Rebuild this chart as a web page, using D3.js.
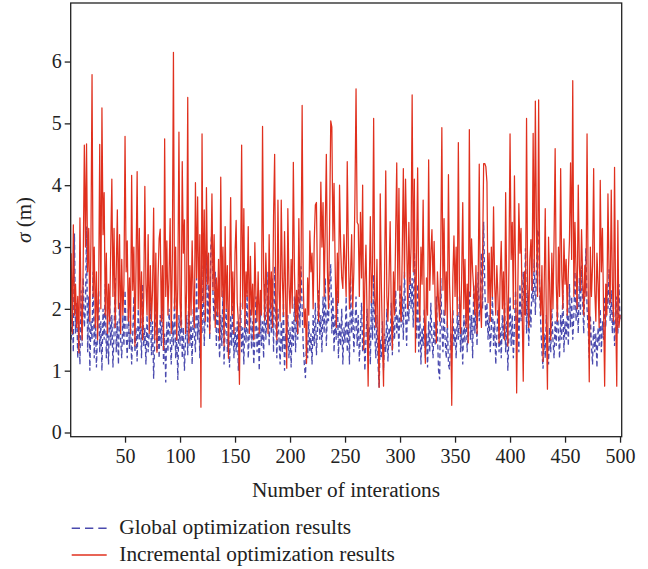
<!DOCTYPE html>
<html>
<head>
<meta charset="utf-8">
<script src="https://cdn.jsdelivr.net/npm/d3@7"></script>
<style>
  body { margin: 0; background: #fff; }
  text { font-family: "Liberation Serif", "DejaVu Serif", serif; fill: #222; }
</style>
</head>
<body>
<div id="chart"></div>
<script>
// iteration numbers 1..500 are the array positions + 1
const xTicks = [50, 100, 150, 200, 250, 300, 350, 400, 450, 500];
const yTicks = [0, 1, 2, 3, 4, 5, 6];

const globalResults = [
  1.5, 1.9, 1.3, 3.22, 1.6, 2.1, 1.2, 1.8, 1.1, 2.3,
  1.4, 2.5, 1.7, 2.0, 3.33, 1.3, 2.2, 1.0, 1.8, 1.5,
  2.6, 1.2, 1.9, 1.05, 1.6, 2.3, 1.3, 1.8, 1.0, 2.0,
  1.5, 2.4, 1.2, 1.7, 1.1, 2.2, 1.4, 1.9, 1.05, 1.6,
  2.5, 1.3, 1.8, 1.1, 2.1, 1.5, 1.2, 1.9, 1.4, 2.3,
  1.6, 1.2, 2.0, 1.35, 1.8, 1.1, 1.6, 2.2, 1.3, 1.7,
  1.15, 2.0, 1.5, 1.8, 1.2, 2.4, 1.4, 1.7, 1.1, 1.9,
  1.3, 1.6, 2.1, 1.25, 1.8, 0.87, 1.5, 2.2, 1.3, 1.7,
  1.2, 1.9, 1.4, 2.3, 1.1, 1.6, 0.81, 1.8, 1.3, 2.0,
  1.5, 1.1, 1.8, 1.4, 2.2, 1.2, 1.6, 0.85, 1.9, 1.4,
  2.1, 1.2, 1.7, 1.0, 1.5, 1.9, 1.25, 2.3, 1.4, 1.8,
  1.1, 2.0, 1.6, 1.3, 2.5, 1.5, 1.9, 1.2, 2.2, 1.6,
  2.7, 1.4, 2.0, 2.9, 1.7, 2.4, 1.5, 3.0, 3.28, 2.2,
  1.8, 2.6, 1.4, 2.1, 1.6, 1.2, 1.9, 1.4, 2.3, 1.1,
  1.7, 2.0, 1.3, 1.6, 1.05, 1.9, 1.4, 2.2, 1.2, 1.7,
  1.3, 1.8, 1.0, 1.5, 2.1, 1.3, 1.7, 1.1, 1.9, 1.45,
  2.3, 1.2, 1.6, 2.0, 1.35, 1.8, 1.1, 1.5, 2.2, 1.3,
  1.7, 1.0, 2.0, 1.4, 1.8, 1.2, 2.4, 1.5, 1.9, 2.6,
  1.4, 2.2, 1.6, 2.5, 1.3, 2.69, 1.8, 1.2, 2.0, 1.5,
  1.1, 1.8, 1.3, 2.1, 1.0, 1.6, 1.35, 1.9, 1.2, 1.7,
  1.05, 1.8, 1.4, 2.2, 1.3, 1.9, 1.5, 2.4, 1.7, 2.69,
  2.0, 1.4, 1.1, 0.88, 1.5, 1.2, 1.8, 1.3, 1.6, 1.1,
  1.9, 1.4, 2.1, 1.25, 1.7, 2.3, 1.5, 1.9, 1.3, 2.2,
  1.6, 2.5, 1.4, 2.0, 1.8, 2.4, 2.72, 1.6, 2.2, 1.3,
  1.9, 1.5, 2.3, 1.2, 1.8, 1.4, 2.0, 1.1, 1.7, 1.45,
  2.2, 1.3, 1.8, 1.1, 2.5, 1.6, 2.0, 1.3, 1.7, 2.2,
  1.4, 1.9, 1.15, 1.6, 2.1, 1.3, 1.8, 1.0, 1.5, 2.0,
  1.3, 1.7, 1.1, 2.2, 1.5, 2.55, 1.6, 1.2, 1.9, 1.1,
  0.73, 1.5, 1.2, 1.8, 1.0, 1.6, 1.3, 2.0, 1.15, 1.7,
  1.4, 2.1, 1.25, 1.8, 1.5, 2.3, 1.6, 1.9, 1.3, 2.4,
  1.7, 2.2, 1.5, 2.6, 1.9, 1.4, 2.3, 1.8, 2.7, 2.0,
  2.5, 1.7, 2.98, 2.1, 1.5, 2.4, 1.3, 1.9, 1.1, 1.7,
  1.4, 2.0, 1.2, 1.6, 1.05, 1.8, 1.3, 2.1, 1.5, 1.2,
  1.8, 1.4, 2.2, 1.6, 1.0, 0.86, 2.5, 1.7, 1.3, 2.0,
  1.5, 1.2, 1.8, 1.1, 1.02, 1.6, 1.3, 2.0, 1.4, 1.7,
  1.2, 1.9, 1.5, 2.2, 1.3, 1.7, 1.1, 1.9, 1.45, 2.1,
  1.3, 1.7, 2.3, 1.5, 1.9, 1.2, 2.4, 1.6, 2.0, 1.4,
  2.6, 1.8, 2.2, 2.9, 2.0, 3.41, 2.4, 1.7, 2.1, 1.5,
  1.9, 1.3, 1.7, 2.2, 1.4, 1.8, 1.1, 1.6, 2.0, 1.3,
  1.7, 1.2, 1.9, 1.5, 2.1, 1.3, 1.8, 1.0, 1.6, 2.2,
  1.4, 1.9, 1.2, 1.7, 2.3, 1.5, 2.0, 1.3, 2.4, 1.8,
  2.1, 2.6, 1.9, 2.98, 1.6, 2.3, 1.4, 2.0, 1.7, 2.5,
  2.1, 2.8, 1.9, 2.6, 3.27, 3.28, 2.2, 1.7, 1.3, 1.03,
  1.6, 1.2, 1.9, 1.4, 1.1, 1.7, 1.3, 2.0, 1.5, 1.2,
  1.8, 1.4, 2.1, 1.6, 1.2, 1.9, 1.5, 2.3, 1.3, 1.8,
  1.5, 2.0, 1.4, 2.4, 1.7, 2.2, 1.5, 1.9, 2.6, 1.8,
  2.2, 1.6, 2.5, 1.9, 2.7, 2.1, 1.6, 2.4, 2.98, 2.0,
  1.7, 1.2, 1.9, 1.4, 1.1, 1.8, 1.3, 1.6, 1.05, 1.7,
  1.4, 2.0, 1.3, 1.8, 1.5, 2.2, 1.7, 2.4, 2.0, 2.64,
  1.8, 2.3, 1.6, 2.1, 1.4, 1.9, 2.2, 1.6, 2.4, 1.8
];

const incrementalResults = [
  2.9, 1.6, 3.36, 1.9, 2.4, 1.7, 2.2, 1.29, 3.47, 2.0,
  1.5, 2.8, 4.65, 3.0, 4.67, 2.6, 3.3, 1.8, 3.1, 5.79,
  2.2, 3.0, 1.7, 2.6, 1.5, 2.3, 4.66, 2.0, 5.25, 3.2,
  3.88, 1.9, 2.9, 1.6, 2.4, 1.8, 3.0, 4.1, 2.2, 3.3,
  1.7, 2.6, 3.6, 2.0, 3.2, 1.6, 2.8, 1.9, 2.4, 4.79,
  2.6, 3.1, 1.8, 2.5, 1.6, 4.16, 2.3, 3.0, 1.4, 2.7,
  4.22, 2.0, 3.3, 1.7, 2.6, 1.5, 2.2, 3.98, 2.4, 1.9,
  3.2, 1.6, 2.7, 1.8, 2.3, 3.63, 1.5, 2.9, 1.3, 2.5,
  3.14, 3.29, 1.8, 2.7, 1.34, 4.75, 2.2, 3.1, 1.9, 2.5,
  3.46, 1.6, 2.8, 6.15, 2.0, 3.0, 1.5, 2.4, 4.86, 2.1,
  1.7, 4.38, 2.9, 3.44, 1.6, 2.3, 5.42, 1.45, 2.7, 1.9,
  3.1, 2.2, 1.7, 4.04, 2.5, 3.81, 2.0, 3.2, 0.41, 4.83,
  2.1, 3.6, 1.8, 3.96, 2.4, 2.9, 1.6, 2.6, 3.86, 2.3,
  3.2, 1.7, 2.5, 1.9, 2.8, 1.5, 4.13, 2.2, 3.0, 1.4,
  3.33, 2.0, 2.7, 1.2, 2.4, 3.8, 1.9, 2.6, 1.6, 2.9,
  3.43, 2.1, 1.8, 0.78, 2.5, 4.65, 2.0, 3.62, 1.7, 2.6,
  2.2, 3.33, 1.6, 2.85, 1.9, 2.4, 1.5, 3.07, 2.2, 1.8,
  2.6, 1.6, 2.3, 1.9, 4.95, 2.5, 1.81, 2.9, 2.2, 1.6,
  3.2, 2.0, 2.6, 1.7, 3.48, 4.5, 2.1, 1.5, 3.76, 2.3,
  1.8, 3.76, 2.5, 1.9, 3.25, 2.2, 1.04, 3.62, 2.4, 1.93,
  2.8, 2.01, 4.37, 2.6, 1.8, 2.3, 1.6, 3.46, 2.1, 2.7,
  5.29, 2.4, 1.7, 2.0, 1.12, 2.5, 1.9, 3.26, 2.6, 2.9,
  2.0, 3.1, 3.68, 3.72, 2.3, 1.8, 2.6, 4.05, 3.0, 3.72,
  2.2, 3.3, 4.5, 2.6, 2.0, 3.4, 5.04, 4.94, 3.1, 4.03,
  2.7, 1.7, 2.9, 2.1, 4.0, 3.0, 2.5, 2.33, 3.2, 2.7,
  2.2, 4.38, 3.0, 2.0, 2.55, 3.2, 2.0, 2.6, 3.8, 5.56,
  3.4, 3.36, 2.2, 3.56, 2.5, 4.0, 1.34, 2.4, 3.03, 1.9,
  0.75, 2.3, 3.49, 2.1, 2.6, 5.08, 2.2, 1.7, 2.8, 1.6,
  0.73, 3.86, 2.4, 1.5, 0.75, 2.7, 4.23, 2.2, 1.8, 2.5,
  3.41, 2.0, 1.34, 2.6, 1.9, 3.2, 4.36, 2.3, 3.95, 2.1,
  1.8, 2.9, 4.27, 2.5, 4.1, 3.1, 2.0, 3.4, 2.4, 3.0,
  5.46, 2.6, 4.1, 1.3, 2.8, 4.28, 2.2, 1.8, 3.0, 2.4,
  3.76, 2.0, 1.12, 2.5, 1.9, 4.41, 2.3, 2.9, 3.28, 2.4,
  3.09, 2.0, 1.45, 2.6, 2.1, 1.8, 2.9, 4.93, 2.3, 3.46,
  1.9, 2.6, 1.7, 4.17, 2.4, 1.8, 0.44, 2.5, 3.18, 2.2,
  3.0, 1.9, 4.69, 2.3, 1.6, 2.5, 3.72, 2.0, 2.8, 1.7,
  2.4, 1.45, 4.9, 2.2, 3.13, 2.6, 2.3, 1.9, 2.7, 1.6,
  2.4, 4.34, 2.1, 1.7, 2.8, 4.35, 4.35, 4.3, 4.05, 2.1,
  2.9, 1.8, 3.0, 2.2, 3.65, 2.4, 1.9, 2.7, 2.2, 1.45,
  2.5, 3.09, 2.0, 2.6, 1.5, 3.88, 2.3, 1.4, 2.7, 4.83,
  2.8, 3.4, 2.0, 4.15, 2.6, 0.64, 2.2, 3.7, 2.9, 3.3,
  2.0, 0.83, 2.6, 1.9, 5.08, 2.4, 1.7, 2.8, 3.12, 2.3,
  4.84, 2.6, 5.36, 3.3, 2.2, 5.38, 2.4, 1.9, 2.7, 1.15,
  2.3, 3.62, 1.8, 0.70, 3.16, 2.4, 1.5, 2.9, 2.0, 3.1,
  4.59, 2.4, 1.8, 3.0, 2.2, 4.27, 2.6, 2.0, 3.13, 2.4,
  2.8, 1.9, 2.6, 3.1, 4.36, 2.8, 5.69, 2.2, 3.4, 2.6,
  2.0, 4.0, 2.7, 2.3, 3.28, 2.5, 1.9, 2.7, 2.2, 4.83,
  2.4, 0.82, 3.0, 2.2, 2.7, 4.27, 2.3, 1.8, 2.9, 2.4,
  1.7, 4.08, 2.6, 3.3, 2.0, 0.75, 2.4, 1.9, 3.86, 2.6,
  2.1, 3.92, 2.4, 1.8, 4.29, 2.0, 0.75, 3.43, 1.7, 1.9
];

const seriesNames = ["Global optimization results", "Incremental optimization results"];
const seriesColors = ["#4a4aae", "#e0301e"];

const W = 648, H = 569;
const margin = { top: 3, right: 26.3, bottom: 132.3, left: 70.7 };
const width = W - margin.left - margin.right;
const height = H - margin.top - margin.bottom;

const svg = d3.select("#chart")
  .append("svg")
  .attr("width", W)
  .attr("height", H);

const g = svg.append("g")
  .attr("transform", `translate(${margin.left},${margin.top})`);

const x = d3.scaleLinear().domain([0.6, 501.5]).range([0, width]);
const y = d3.scaleLinear().domain([-0.068, 6.947]).range([height, 0]);

g.append("clipPath").attr("id", "clip")
  .append("rect").attr("width", width).attr("height", height);

const line = d3.line()
  .x((d, i) => x(i + 1))
  .y(d => y(d));

const plot = g.append("g").attr("clip-path", "url(#clip)");

plot.append("path")
  .datum(globalResults)
  .attr("fill", "none")
  .attr("stroke", seriesColors[0])
  .attr("stroke-width", 1.3)
  .attr("stroke-dasharray", "5,3")
  .attr("d", line);

plot.append("path")
  .datum(incrementalResults)
  .attr("fill", "none")
  .attr("stroke", seriesColors[1])
  .attr("stroke-width", 1.25)
  .attr("stroke-linejoin", "round")
  .attr("d", line);

// frame
g.append("rect")
  .attr("width", width)
  .attr("height", height)
  .attr("fill", "none")
  .attr("stroke", "#222")
  .attr("stroke-width", 1.3);

const xAxis = g.append("g")
  .attr("transform", `translate(0,${height})`)
  .call(d3.axisBottom(x).tickValues(xTicks).tickSize(6).tickPadding(6).tickFormat(d3.format("d")));
const yAxis = g.append("g")
  .call(d3.axisLeft(y).tickValues(yTicks).tickSize(6).tickPadding(3).tickFormat(d3.format("d")));

[xAxis, yAxis].forEach(ax => {
  ax.select(".domain").remove();
  ax.selectAll(".tick line").attr("stroke", "#222").attr("stroke-width", 1.3);
  ax.selectAll(".tick text")
    .attr("font-family", "Liberation Serif, serif")
    .attr("font-size", "20px")
    .attr("fill", "#222");
});

// axis titles
svg.append("text")
  .attr("x", 346)
  .attr("y", 497)
  .attr("text-anchor", "middle")
  .attr("font-size", "21.3px")
  .text("Number of interations");

const yTitle = svg.append("text")
  .attr("transform", "translate(31,220) rotate(-90)")
  .attr("text-anchor", "middle")
  .attr("font-size", "21px");
yTitle.append("tspan").attr("font-style", "italic").text("σ");
yTitle.append("tspan").text(" (m)");

// legend
const legend = svg.append("g");
seriesNames.forEach((name, i) => {
  const ly = 528.3 + i * 26.7;
  legend.append("line")
    .attr("x1", 71.7).attr("x2", 106.7)
    .attr("y1", ly).attr("y2", ly)
    .attr("stroke", seriesColors[i])
    .attr("stroke-width", 1.4)
    .attr("stroke-dasharray", i === 0 ? "8.3,5" : null);
  legend.append("text")
    .attr("x", 119.3)
    .attr("y", ly + 6)
    .attr("font-size", "21.3px")
    .text(name);
});
</script>
</body>
</html>
